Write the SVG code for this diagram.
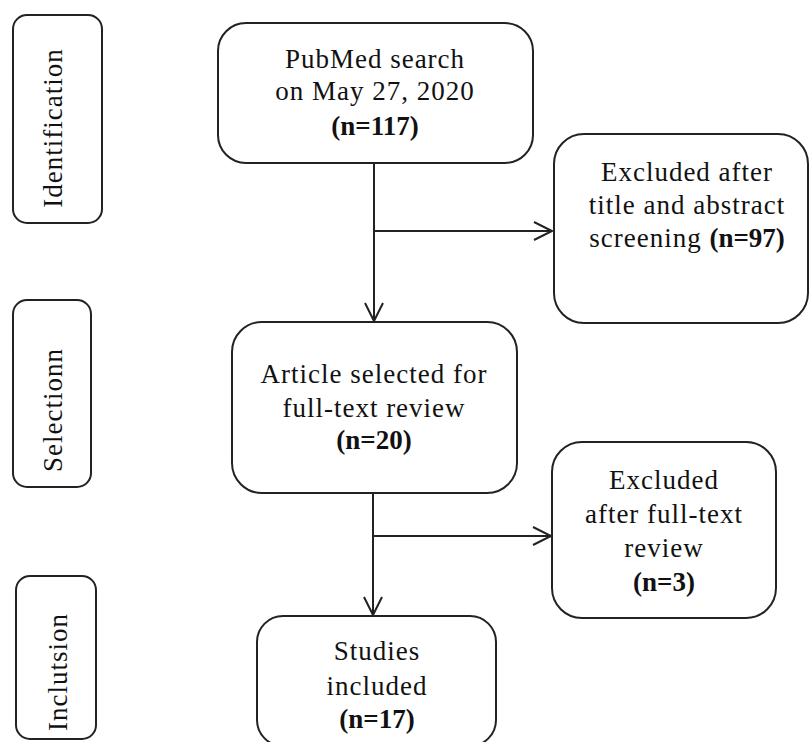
<svg xmlns="http://www.w3.org/2000/svg" width="810" height="742" viewBox="0 0 810 742">
<style>
.box{fill:#fff;stroke:#222;stroke-width:2}
.t{font-family:"Liberation Serif","Times New Roman",serif;font-size:27px;fill:#111;text-anchor:middle;letter-spacing:1px}
.b{font-weight:bold;letter-spacing:0}
.c{fill:none;stroke:#222;stroke-width:2}
</style>
<defs>
<marker id="arr" markerUnits="userSpaceOnUse" markerWidth="22" markerHeight="22" refX="19" refY="10" orient="auto">
<path d="M1,1 L19,10 L1,19" fill="none" stroke="#222" stroke-width="2"/>
</marker>
</defs>
<rect width="810" height="742" fill="#fff"/>
<g id="connectors">
<line class="c" x1="374" y1="163" x2="374" y2="321" marker-end="url(#arr)"/>
<line class="c" x1="374" y1="231" x2="552" y2="231" marker-end="url(#arr)"/>
<line class="c" x1="373" y1="493" x2="373" y2="615" marker-end="url(#arr)"/>
<line class="c" x1="373" y1="536" x2="551" y2="536" marker-end="url(#arr)"/>
</g>
<g id="identification">
<rect class="box" x="13" y="15" width="89" height="208" rx="14"/>
<text class="t" transform="translate(62,128) rotate(-90)">Identification</text>
</g>
<g id="selection">
<rect class="box" x="13" y="300" width="78" height="187" rx="14"/>
<text class="t" transform="translate(62,410) rotate(-90)">Selectionn</text>
</g>
<g id="inclusion">
<rect class="box" x="16" y="576" width="80" height="163" rx="14"/>
<text class="t" transform="translate(67,672) rotate(-90)">Inclutsion</text>
</g>
<g id="pubmed">
<rect class="box" x="218" y="23" width="315" height="140" rx="28"/>
<text class="t" x="375" y="68">PubMed search</text>
<text class="t" x="375" y="100">on May 27, 2020</text>
<text class="t b" x="375" y="135">(n=117)</text>
</g>
<g id="excluded1">
<rect class="box" x="554" y="134" width="254" height="189" rx="30"/>
<text class="t" x="687" y="181">Excluded after</text>
<text class="t" x="687" y="214">title and abstract</text>
<text class="t" x="687" y="247">screening <tspan class="b">(n=97)</tspan></text>
</g>
<g id="article">
<rect class="box" x="232" y="322" width="285" height="171" rx="30"/>
<text class="t" x="374" y="383">Article selected for</text>
<text class="t" x="374" y="417">full-text review</text>
<text class="t b" x="374" y="449">(n=20)</text>
</g>
<g id="excluded2">
<rect class="box" x="552" y="442" width="224" height="176" rx="30"/>
<text class="t" x="664" y="489">Excluded</text>
<text class="t" x="664" y="523">after full-text</text>
<text class="t" x="664" y="557">review</text>
<text class="t b" x="664" y="591">(n=3)</text>
</g>
<g id="studies">
<rect class="box" x="257" y="616" width="239" height="130" rx="26"/>
<text class="t" x="377" y="660">Studies</text>
<text class="t" x="377" y="695">included</text>
<text class="t b" x="377" y="728">(n=17)</text>
</g>
</svg>
